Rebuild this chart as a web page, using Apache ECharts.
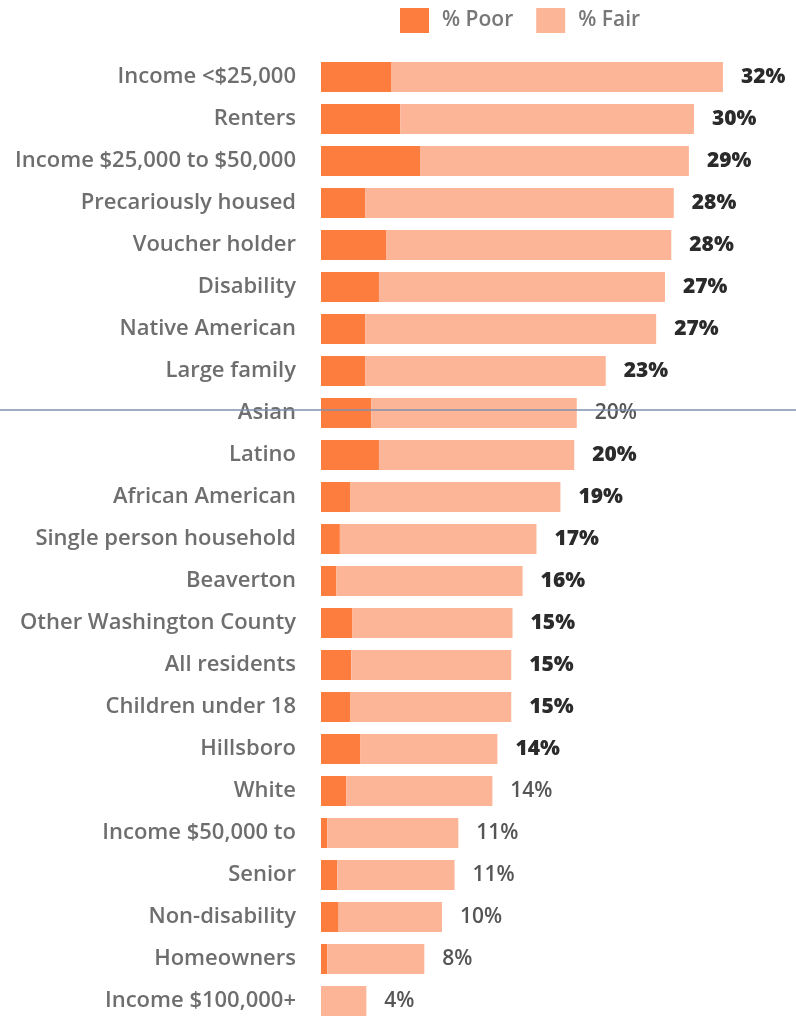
<!DOCTYPE html>
<html><head><meta charset="utf-8">
<script src="https://cdn.jsdelivr.net/npm/echarts@6/dist/echarts.min.js"></script>
<style>html,body{margin:0;padding:0;background:#fff}#c{width:796px;height:1016px}</style>
</head><body><div id="c"></div>
<script>
const categories = ["Income <$25,000","Renters","Income $25,000 to $50,000","Precariously housed","Voucher holder","Disability","Native American","Large family","Asian","Latino","African American","Single person household","Beaverton","Other Washington County","All residents","Children under 18","Hillsboro","White","Income $50,000 to","Senior","Non-disability","Homeowners","Income $100,000+"];
const poor = [5.6,6.3,7.9,3.5,5.2,4.6,3.5,3.5,4.0,4.6,2.3,1.5,1.2,2.5,2.4,2.3,3.1,2.0,0.5,1.3,1.4,0.5,0];
const fair = [26.3,23.3,21.3,24.5,22.6,22.7,23.1,19.1,16.3,15.5,16.7,15.6,14.8,12.7,12.7,12.8,10.9,11.6,10.4,9.3,8.2,7.7,3.6];
const emphasized = [1,1,1,1,1,1,1,1,0,1,1,1,1,1,1,1,1,0,0,0,0,0,0];

const chart = echarts.init(document.getElementById('c'));
const font = '"Open Sans", sans-serif';
chart.setOption({
  animation: false,
  legend: {
    top: 3, left: 395, itemWidth: 29, itemHeight: 25, itemGap: 23,
    icon: 'rect',
    textStyle: {fontFamily: font, fontSize: 21, fontWeight: 600, color: '#777', padding: [0,0,0,8]},
    data: ['% Poor', '% Fair']
  },
  graphic: [{type: 'line', shape: {x1: 0, y1: 410, x2: 796, y2: 410}, style: {stroke: '#8090b0', lineWidth: 1.5}, z: 100}],
  grid: {left: 321, top: 56, width: 453.6, height: 966, outerBoundsMode: 'none', containLabel: false},
  xAxis: {type: 'value', min: 0, max: 36, show: false},
  yAxis: {
    type: 'category', inverse: true, data: categories,
    axisLine: {show: false}, axisTick: {show: false},
    axisLabel: {fontFamily: font, fontSize: 22, fontWeight: 600, color: '#6e6e6e', margin: 25}
  },
  series: [
    {name: '% Poor', type: 'bar', stack: 't', data: poor, barWidth: 30,
     itemStyle: {color: '#fd7d3f'}},
    {name: '% Fair', type: 'bar', stack: 't', data: fair, barWidth: 30,
     itemStyle: {color: '#fdb597'},
     label: {show: true, position: 'right', distance: 18,
       formatter: p => {
         const t = Math.round(poor[p.dataIndex] + fair[p.dataIndex]) + '%';
         return emphasized[p.dataIndex] ? '{b|' + t + '}' : '{n|' + t + '}';
       },
       rich: {
         b: {fontFamily: font, fontSize: 21, fontWeight: 800, color: '#2b2b2b'},
         n: {fontFamily: font, fontSize: 21, fontWeight: 600, color: '#555'}
       }}}
  ]
});
</script></body></html>
